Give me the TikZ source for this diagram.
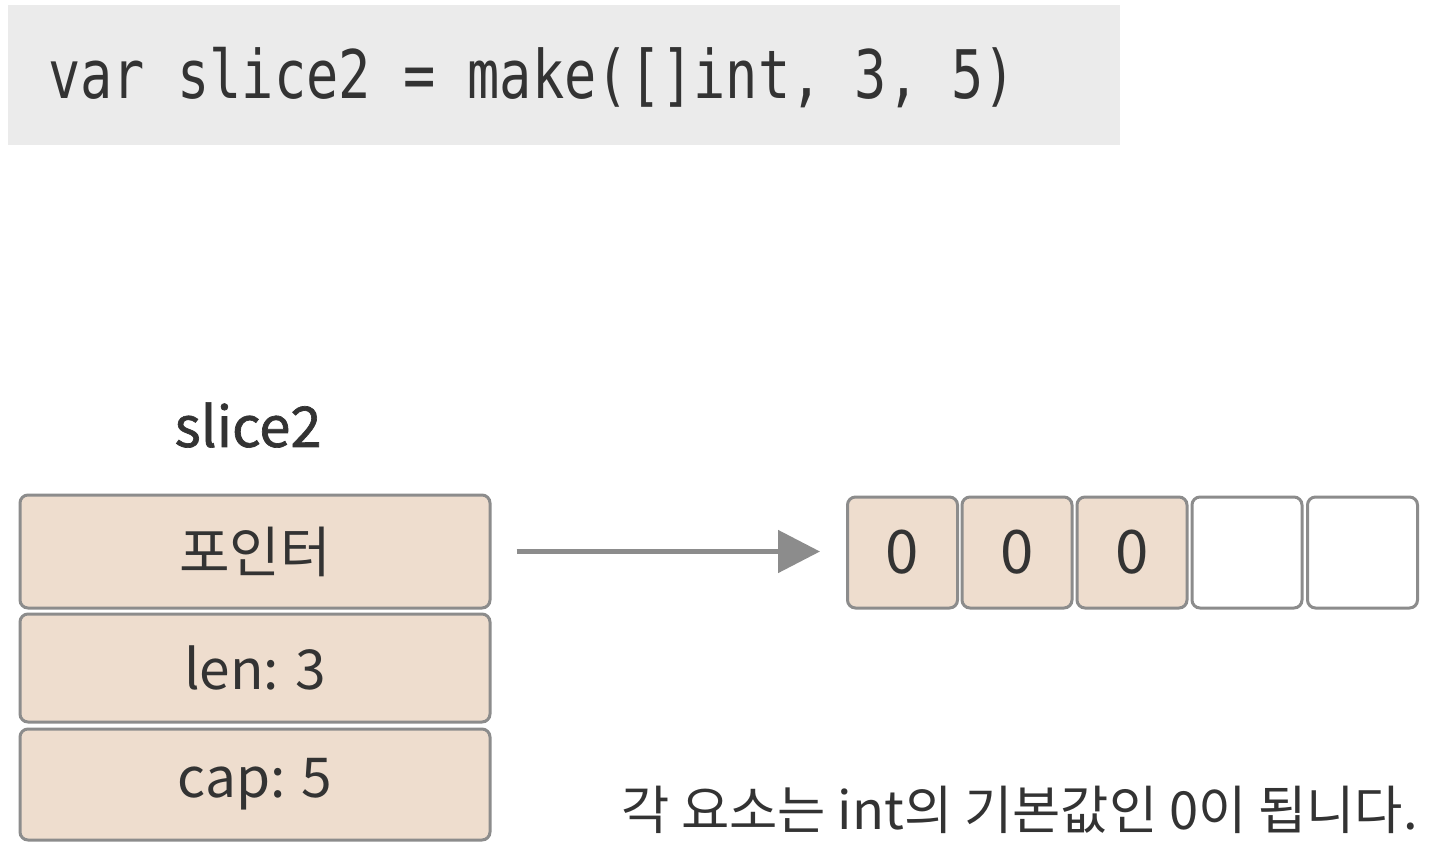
\documentclass[tikz,border=0pt]{standalone}
\usepackage{fontspec}
\usetikzlibrary{arrows.meta}
\newfontfamily\kr{Noto Sans CJK KR}
\newfontfamily\krb[FakeBold=1.2]{Noto Sans CJK KR}
\newfontfamily\codefont[FakeStretch=0.80]{DejaVu Sans Mono}
\definecolor{peach}{RGB}{238,221,206}
\definecolor{edge}{RGB}{140,140,140}
\definecolor{codebg}{RGB}{235,235,235}
\definecolor{ink}{RGB}{51,51,51}
\tikzset{
  field/.style={draw=edge, line width=3pt, fill=peach, rounded corners=8pt,
    minimum width=470pt, inner sep=0pt, text=ink, font=\kr\fontsize{55}{60}\selectfont},
  cell/.style={draw=edge, line width=3pt, rounded corners=8pt,
    minimum width=110pt, minimum height=111pt, inner sep=0pt, text=ink,
    font=\kr\fontsize{60}{66}\selectfont},
  pointer/.style={draw=edge, line width=5pt, -{Triangle[length=42pt,width=42pt]},
    shorten <=25pt, shorten >=26pt}
}
\begin{document}
\begin{tikzpicture}[x=1pt,y=-1pt]
\useasboundingbox[fill=white] (0,0) rectangle (1438,852);
% code box
\node[fill=codebg, minimum width=1112pt, minimum height=140pt, inner sep=0pt] (code) at (564,75) {};
\node[anchor=west, inner sep=0pt, text=ink, font=\codefont\fontsize{67}{70}\selectfont] (codetext) at (48,78) {var slice2 = make([]int, 3, 5)};
% slice header
\node[text=ink, inner sep=0pt, font=\krb\fontsize{56}{60}\selectfont] (title) at (248,425) {slice2};
\node[field, minimum height=113pt] (ptr) at (255,551.5) {포인터};
\node[field, minimum height=108pt] (len) at (255,668) {len: 3};
\node[field, minimum height=111pt] (cap) at (255,784.5) {cap: 5};
% array cells
\node[cell, fill=peach] (c1) at (902.5,552.5) {0};
\node[cell, fill=peach] (c2) at (1017,552.5) {0};
\node[cell, fill=peach] (c3) at (1132,552.5) {0};
\node[cell, fill=white] (c4) at (1247,552.5) {};
\node[cell, fill=white] (c5) at (1362.5,552.5) {};
\draw[pointer] (ptr.east) -- (ptr.east -| c1.west);
% caption
\node[anchor=east, inner sep=0pt, text=ink, font=\kr\fontsize{52.5}{56}\selectfont] (note) at (1418,810) {각 요소는 int의 기본값인 0이 됩니다.};
\end{tikzpicture}
\end{document}
